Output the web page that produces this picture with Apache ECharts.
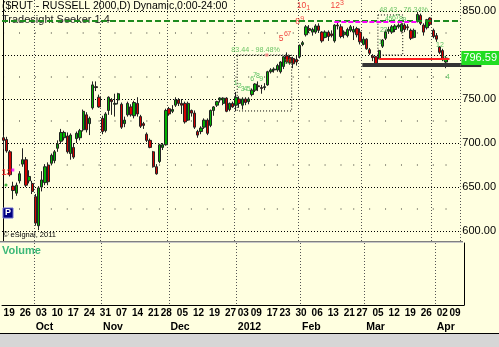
<!DOCTYPE html>
<html><head><meta charset="utf-8">
<script src="https://cdn.jsdelivr.net/npm/echarts@6/dist/echarts.min.js"></script>
<style>html,body{margin:0;padding:0;background:#ffffe0}#c{width:499px;height:347px}</style>
</head><body><div id="c"></div><script>
// ---------------- DATA ----------------
const dates = [
'2011-09-19','2011-09-20','2011-09-21','2011-09-22','2011-09-23','2011-09-26','2011-09-27','2011-09-28','2011-09-29','2011-09-30',
'2011-10-03','2011-10-04','2011-10-05','2011-10-06','2011-10-07','2011-10-10','2011-10-11','2011-10-12','2011-10-13','2011-10-14',
'2011-10-17','2011-10-18','2011-10-19','2011-10-20','2011-10-21','2011-10-24','2011-10-25','2011-10-26','2011-10-27','2011-10-28','2011-10-31',
'2011-11-01','2011-11-02','2011-11-03','2011-11-04','2011-11-07','2011-11-08','2011-11-09','2011-11-10','2011-11-11','2011-11-14',
'2011-11-15','2011-11-16','2011-11-17','2011-11-18','2011-11-21','2011-11-22','2011-11-23','2011-11-25','2011-11-28','2011-11-29','2011-11-30',
'2011-12-01','2011-12-02','2011-12-05','2011-12-06','2011-12-07','2011-12-08','2011-12-09','2011-12-12','2011-12-13','2011-12-14',
'2011-12-15','2011-12-16','2011-12-19','2011-12-20','2011-12-21','2011-12-22','2011-12-23','2011-12-27','2011-12-28','2011-12-29','2011-12-30',
'2012-01-03','2012-01-04','2012-01-05','2012-01-06','2012-01-09','2012-01-10','2012-01-11','2012-01-12','2012-01-13','2012-01-17',
'2012-01-18','2012-01-19','2012-01-20','2012-01-23','2012-01-24','2012-01-25','2012-01-26','2012-01-27','2012-01-30','2012-01-31',
'2012-02-01','2012-02-02','2012-02-03','2012-02-06','2012-02-07','2012-02-08','2012-02-09','2012-02-10','2012-02-13','2012-02-14',
'2012-02-15','2012-02-16','2012-02-17','2012-02-21','2012-02-22','2012-02-23','2012-02-24','2012-02-27','2012-02-28','2012-02-29',
'2012-03-01','2012-03-02','2012-03-05','2012-03-06','2012-03-07','2012-03-08','2012-03-09','2012-03-12','2012-03-13','2012-03-14',
'2012-03-15','2012-03-16','2012-03-19','2012-03-20','2012-03-21','2012-03-22','2012-03-23','2012-03-26','2012-03-27','2012-03-28',
'2012-03-29','2012-03-30','2012-04-02','2012-04-03','2012-04-04','2012-04-05','2012-04-09'];
const opens = [706,704,690,651,643,657,676,681,657,654, 639,606,650,655,675,677,680,694,702,706, 708,688,695,705,706,715,732,722,740,764,752,
728,714,737,749,744,749,744,722,732,741, 731,745,730,722,710,703,690,673,679,695,698,
739,736,743,749,745,745,726,737,734,713, 713,718,726,720,737,743,749,745,751,738,745,
743,750,743,750,747,755,760,765,763,763, 766,781,783,783,781,787,799,797,796,795,
798,812,823,830,826,826,833,826,820,826, 824,816,834,832,823,822,828,826,830,826,
812,818,806,799,798,796,810,819,827,826, 829,832,827,834,832,828,820,838,845,834,
831,842,828,822,809,805,792];
const highs = [709,707,692,656,655,668,694,684,669,657, 642,651,668,676,678,688,692,703,716,714, 712,711,700,713,716,738,735,730,770,770,755,
731,735,753,751,756,757,746,730,747,744, 748,752,732,724,712,705,691,676,699,700,739,
741,743,752,751,750,747,747,738,737,715, 719,728,728,738,742,748,752,752,752,746,747,
758,753,752,752,752,762,768,770,766,768, 782,785,786,790,793,799,803,800,798,799,
812,816,834,834,831,835,836,827,828,828, 828,835,837,835,828,831,834,833,832,830,
821,819,808,801,799,806,818,828,832,834, 835,836,836,836,835,830,830,849,847,836,
841,843,830,825,810,807,799];
const lows = [693,689,662,636,640,654,673,650,654,642, 606,601,645,652,652,675,677,690,699,703, 688,681,682,700,703,713,712,709,738,759,740,
710,712,732,732,730,744,716,718,730,730, 728,730,717,716,701,694,672,664,677,692,697,
731,734,741,742,733,722,725,730,716,706, 710,716,709,718,731,741,746,743,735,736,740,
736,740,738,743,744,753,758,759,756,760, 765,779,780,781,779,784,790,789,785,788,
796,810,821,825,822,824,825,814,819,816, 820,814,829,819,819,820,826,817,820,812,
811,806,800,793,787,795,808,817,824,824, 826,830,826,826,828,817,819,837,834,822,
829,833,819,815,801,793,785];
const closes = [703,691,664,646,652,665,681,652,662,645, 609,649,658,673,656,686,690,699,712,712, 690,709,684,711,714,736,715,728,766,763,741,
713,733,752,747,745,756,718,726,745,732, 746,733,719,720,703,695,673,665,698,698,737,
733,738,749,745,743,724,745,734,718,709, 717,726,711,737,741,747,751,751,736,745,741,
752,745,750,746,750,760,767,764,762,764, 781,783,784,788,792,798,792,791,790,792,
811,814,832,828,829,833,828,816,826,821, 822,834,833,821,826,829,832,829,823,815,
818,807,802,797,789,805,817,826,829,832, 833,834,835,829,831,819,828,846,836,826,
840,835,821,818,803,795,796.59];
const lastPrice = 796.59;
const yGridLevels = [600,650,700,750,800,850];
const yDotLevels = [625,675,725,775,825];
// annotation texts: [bar position, price, text]
const redCounts = [[93.6,855.7,'10'],[104.2,855.7,'12'],[92.4,837.5,'8'],[87.2,818.2,'5']];
const redSmall = [[95.7,852.8,'1'],[106.3,858.5,'3'],[93.8,840.9,'9'],[88.7,823.3,'6'],[89.7,823.3,'7']];
const setupLabel = [[0.9,666.5,'13']];
const greenCounts = [[72.9,767.6,'1'],[74.2,764.8,'2'],[75.1,760.8,'3'],[76.0,760.8,'4'],[77.0,760.8,'5'],
  [78.1,772.7,'6'],[79.0,776.7,'7'],[79.9,776.1,'8'],[80.9,772.7,'9'],[89.3,792,'10'],
  [118.3,814.8,'1'],[118.9,827.8,'2'],[120.0,827.8,'3'],[120.4,840.9,'4'],[121.5,840.9,'5'],[122.6,842,'6'],
  [123.7,842.6,'7'],[124.8,840.9,'8'],[125.9,839.8,'9'],[137.1,810.8,'12'],[138.4,794.9,'3'],[139.5,774.4,'4']];
const retraceTexts = [[71.5,805.7,'83.44 - 98.48%'],[118.0,851.1,'48.43 - 76.34%']];
const dotMarks = [[82.7,800.0,'salmon'],[2.9,669.3,'magenta'],[0.75,652.3,'green']];
const levelLines = {target:839, magenta:[103.9,129.8,837.5], red:[118,140.1,795.8], support:[112.7,143.5,788.6]};
const boxes = [[73.4,800,90.5,736.4],[117.6,845.5,125.4,800]];

// ---------------- BUILD ----------------
const FS = '"Liberation Sans",Arial,sans-serif';
const N = dates.length, EXTRA = 4;
const cats = dates.concat(['e1','e2','e3','e4']);
const candleData = dates.map((d,i)=>[opens[i],closes[i],lows[i],highs[i]]);
const dayOf = i => new Date(dates[i]+'T00:00:00Z');
const isWeekStart = i => { if (i>=N) return false; if (i===0) return true; const a=dayOf(i-1), b=dayOf(i); return b.getUTCDay()<=a.getUTCDay() || (b-a)>=7*864e5; };
const isMonthStart = i => i>0 && i<N && dates[i].slice(0,7)!==dates[i-1].slice(0,7);
const MONTHS=['Jan','Feb','Mar','Apr','May','Jun','Jul','Aug','Sep','Oct','Nov','Dec'];

const weekDots=[];
for(let i=0;i<N;i++) if(isWeekStart(i)) yDotLevels.forEach(L=>weekDots.push([i,L]));

const txt = (arr, color, size, weight, pos) => arr.map(a=>({value:[a[0],a[1]], label:{show:true, formatter:a[2], color, fontSize:size, fontWeight:weight||'normal', position:pos||'inside', distance:0, fontFamily:FS}}));
const dotColor = {salmon:'#ff7f7f', magenta:'#ff00ff', green:'#10a010'};
const annData = [].concat(
  txt(redCounts,'#ee1111',8.5),
  txt(redSmall,'#ee1111',7),
  txt(setupLabel,'#ee1111',9,'bold'),
  txt(greenCounts,'#30b040',7),
  txt(retraceTexts,'#44b444',7.2,'normal','right'),
  dotMarks.map(d=>({value:[d[0],d[1]], symbol:d[2]==='green'?'circle':'rect', symbolSize:3, itemStyle:{color:dotColor[d[2]]}}))
);

const monthSplit = {show:true, interval:(idx)=>isMonthStart(idx), lineStyle:{color:'#555', type:[1,2], width:1}};

const option = {
  animation:false,
  backgroundColor:'#ffffe0',
  title:[
    {text:'($RUT - RUSSELL 2000,D) Dynamic,0:00-24:00', left:2, top:1, padding:0, textStyle:{fontFamily:FS, fontSize:10.5, fontWeight:'normal', color:'#000'}},
    {text:'Tradesight Seeker 1.4', left:2, top:14, padding:0, z:1, textStyle:{fontFamily:FS, fontSize:11, fontWeight:'normal', color:'#222'}},
    {text:'Volume', left:2, top:245, padding:0, textStyle:{fontFamily:FS, fontSize:11, fontWeight:'bold', color:'#3cb878'}},
    {text:'\u00a9 eSignal, 2011', left:3, top:231, padding:0, textStyle:{fontFamily:FS, fontSize:7.5, fontWeight:'normal', color:'#000'}},
    {text:'Published by eSignal (www.esignal.com)', right:6, top:335, padding:0, textStyle:{fontFamily:FS, fontSize:9.5, fontWeight:'normal', color:'#000'}}
  ],
  graphic:[
    {type:'rect', z:10, shape:{x:0,y:241,width:463,height:1}, style:{fill:'#808080'}},
    {type:'rect', z:10, shape:{x:0,y:242,width:463,height:1}, style:{fill:'#c8c8c8'}},
    {type:'rect', z:10, shape:{x:0,y:333,width:499,height:1}, style:{fill:'#000'}},
    {type:'rect', z:10, shape:{x:0,y:334,width:499,height:13}, style:{fill:'#d6d6d6'}},
    {type:'rect', z:10, shape:{x:3,y:208,width:10,height:10}, style:{fill:'#000080', stroke:'#6f6fd0', lineWidth:1}},
    {type:'text', z:11, x:8, y:213, style:{text:'P', fill:'#fff', font:'bold 9px '+FS, align:'center', verticalAlign:'middle'}}
  ],
  grid:[
    {left:2, width:462, top:0, height:242},
    {left:2, width:462, top:243, height:62}
  ],
  xAxis:[
    {type:'category', gridIndex:0, data:cats, boundaryGap:true, axisLine:{show:false}, axisTick:{show:false}, axisLabel:{show:false}, splitLine:monthSplit},
    {type:'value', gridIndex:0, min:-0.5, max:N+EXTRA-0.5, show:false, splitLine:{show:false}},
    {type:'category', gridIndex:1, data:cats, boundaryGap:true, position:'bottom',
      axisLine:{show:true, lineStyle:{color:'#000', width:1}}, axisTick:{show:false}, splitLine:monthSplit,
      axisLabel:{interval:(idx)=>isWeekStart(idx), formatter:(v)=>v.slice(8,10), align:'left', margin:3, fontFamily:FS, fontSize:10, fontWeight:'bold', color:'#000'}},
    {type:'category', gridIndex:1, data:cats, boundaryGap:true, position:'bottom',
      axisLine:{show:false}, axisTick:{show:false}, splitLine:{show:false},
      axisLabel:{interval:(idx)=>isMonthStart(idx), formatter:(v)=>{const m=+v.slice(5,7)-1; return m===0? v.slice(0,4) : MONTHS[m];}, align:'left', margin:17, fontFamily:FS, fontSize:10.5, fontWeight:'bold', color:'#000'}}
  ],
  yAxis:[
    {type:'value', gridIndex:0, position:'right', min:587.5, max:862.5, scale:true,
      axisLine:{show:true, lineStyle:{color:'#000', width:1}}, axisTick:{show:false}, splitLine:{show:false},
      axisLabel:{margin:2, fontFamily:FS, fontSize:11, color:'#000', formatter:(v)=> (v%50===0 && v!==800) ? v.toFixed(2) : ''}},
    {type:'value', gridIndex:1, position:'right', min:0, max:1,
      axisLine:{show:true, lineStyle:{color:'#000', width:1}}, axisTick:{show:false}, axisLabel:{show:false}, splitLine:{show:false}}
  ],
  series:[
    {type:'scatter', name:'grid', xAxisIndex:1, yAxisIndex:0, z:1, silent:true,
      data:weekDots, symbol:'rect', symbolSize:1, itemStyle:{color:'#000'},
      markLine:{silent:true, z:1, symbol:'none', label:{show:false}, lineStyle:{color:'#000', type:[1,2], width:1},
        data: yGridLevels.map(v=>({yAxis:v}))}},
    {type:'candlestick', name:'$RUT', xAxisIndex:0, yAxisIndex:0, z:2, data:candleData, barWidth:2.8,
      itemStyle:{color:'#00b000', color0:'#d40000', borderColor:'#222', borderColor0:'#222', borderWidth:1}},
    {type:'scatter', name:'annotations', xAxisIndex:1, yAxisIndex:0, z:4, clip:false, silent:true,
      symbolSize:0, data:annData,
      markLine:{silent:true, symbol:'none', label:{show:false},
        data:[
          {yAxis:levelLines.target, lineStyle:{color:'#1e8a1e', type:[6,3], width:2}},
          [{coord:[levelLines.magenta[0],levelLines.magenta[2]], lineStyle:{color:'#ff00ff', type:[5,2], width:2}},{coord:[levelLines.magenta[1],levelLines.magenta[2]]}],
          [{coord:[levelLines.red[0],levelLines.red[2]], lineStyle:{color:'#ff2020', type:'solid', width:2}},{coord:[levelLines.red[1],levelLines.red[2]]}],
          [{coord:[levelLines.support[0],levelLines.support[2]], lineStyle:{color:'#333', type:'solid', width:4},
            label:{show:true, position:'end', distance:0, formatter:' ', backgroundColor:'#333', width:21, height:4, padding:0, fontSize:3, lineHeight:4}},
           {coord:[levelLines.support[1],levelLines.support[2]]}],
          {yAxis:lastPrice, lineStyle:{color:'rgba(0,0,0,0)', width:1}, label:{show:true, position:'end', distance:1, formatter:lastPrice.toFixed(2), backgroundColor:'#22dd22', color:'#ffffff', padding:[2,2,1,2], fontFamily:FS, fontSize:11}}
        ]},
      markArea:{silent:true, itemStyle:{color:'rgba(0,0,0,0)', borderColor:'#000', borderWidth:1, borderType:[1,2]},
        data: boxes.map(b=>[{coord:[b[0],b[1]]},{coord:[b[2],b[3]]}])}
    }
  ]
};
const chart = echarts.init(document.getElementById('c'));
chart.setOption(option);
</script></body></html>
